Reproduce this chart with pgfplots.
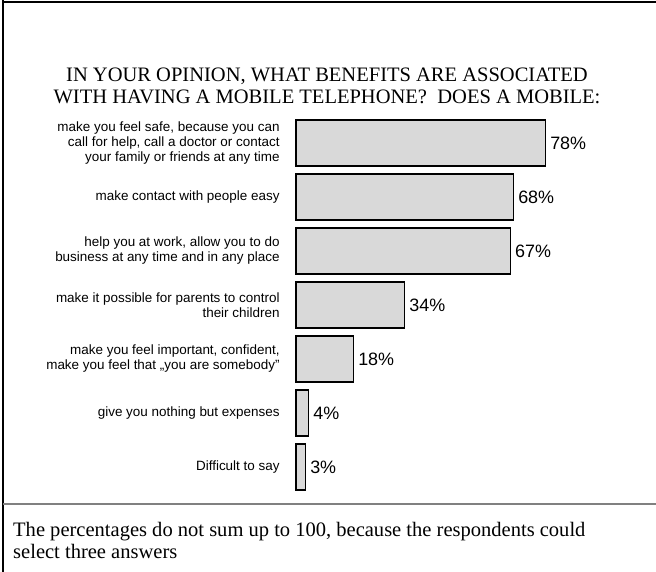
\documentclass[border=0pt]{standalone}
\usepackage{pgfplots}
\pgfplotsset{compat=1.18}
\usepackage{fontspec}
\setmainfont{Liberation Serif}
\newfontfamily\arialf{Liberation Sans}
\definecolor{barfill}{HTML}{D9D9D9}
\definecolor{sepgray}{HTML}{808080}
\begin{document}
\begin{tikzpicture}[x=1bp,y=1bp]
\useasboundingbox (0,0) rectangle (656,572);
\fill[white] (0,0) rectangle (656,572);
% frame
\draw[black, line width=2bp] (3,570) -- (656,570);
\draw[black, line width=1.3bp] (3,572) -- (3,0);
\draw[sepgray, line width=1.5bp] (3,68) -- (656,68);
% title
\node[anchor=base, font=\fontsize{20.6}{22}\selectfont] at (327,490) {IN YOUR OPINION, WHAT BENEFITS ARE ASSOCIATED};
\node[anchor=base, font=\fontsize{20.6}{22}\selectfont] at (327,468) {WITH HAVING A MOBILE TELEPHONE?\ \ DOES A MOBILE:};
% footnote
\node[anchor=base west, font=\fontsize{20.6}{22}\selectfont, inner sep=0pt] at (13,35) {The percentages do not sum up to 100, because the respondents could};
\node[anchor=base west, font=\fontsize{20.6}{22}\selectfont, inner sep=0pt] at (13,13) {select three answers};
\begin{axis}[
  at={(296bp,78bp)}, anchor=south west,
  scale only axis, width=320bp, height=378bp,
  xmin=0, xmax=100, ymin=-0.5, ymax=6.5,
  axis line style={draw=none},
  xtick=\empty,
  xbar, bar width=46bp,
  ytick={0,1,2,3,4,5,6},
  yticklabels={
    {Difficult to say},
    {give you nothing but expenses},
    {make you feel important, confident,\\make you feel that „you are somebody”},
    {make it possible for parents to control\\their children},
    {help you at work, allow you to do\\business at any time and in any place},
    {make contact with people easy},
    {make you feel safe, because you can\\call for help, call a doctor or contact\\your family or friends at any time}},
  yticklabel style={align=right, anchor=east, inner sep=0pt, xshift=-12bp,
     font=\arialf\fontsize{13.5}{15}\selectfont},
  ytick style={draw=none},
  /pgf/number format/assume math mode=true,
  nodes near coords={\pgfmathprintnumber{\pgfplotspointmeta}\%},
  every node near coord/.append style={anchor=west, inner sep=0pt, xshift=4bp,
     font=\arialf\fontsize{18}{20}\selectfont, text=black},
  clip=false,
]
\addplot[draw=black, line width=1.3bp, fill=barfill] coordinates {
  (3,0) (4,1) (18,2) (34,3) (67,4) (68,5) (78,6)
};
\end{axis}
\end{tikzpicture}
\end{document}
